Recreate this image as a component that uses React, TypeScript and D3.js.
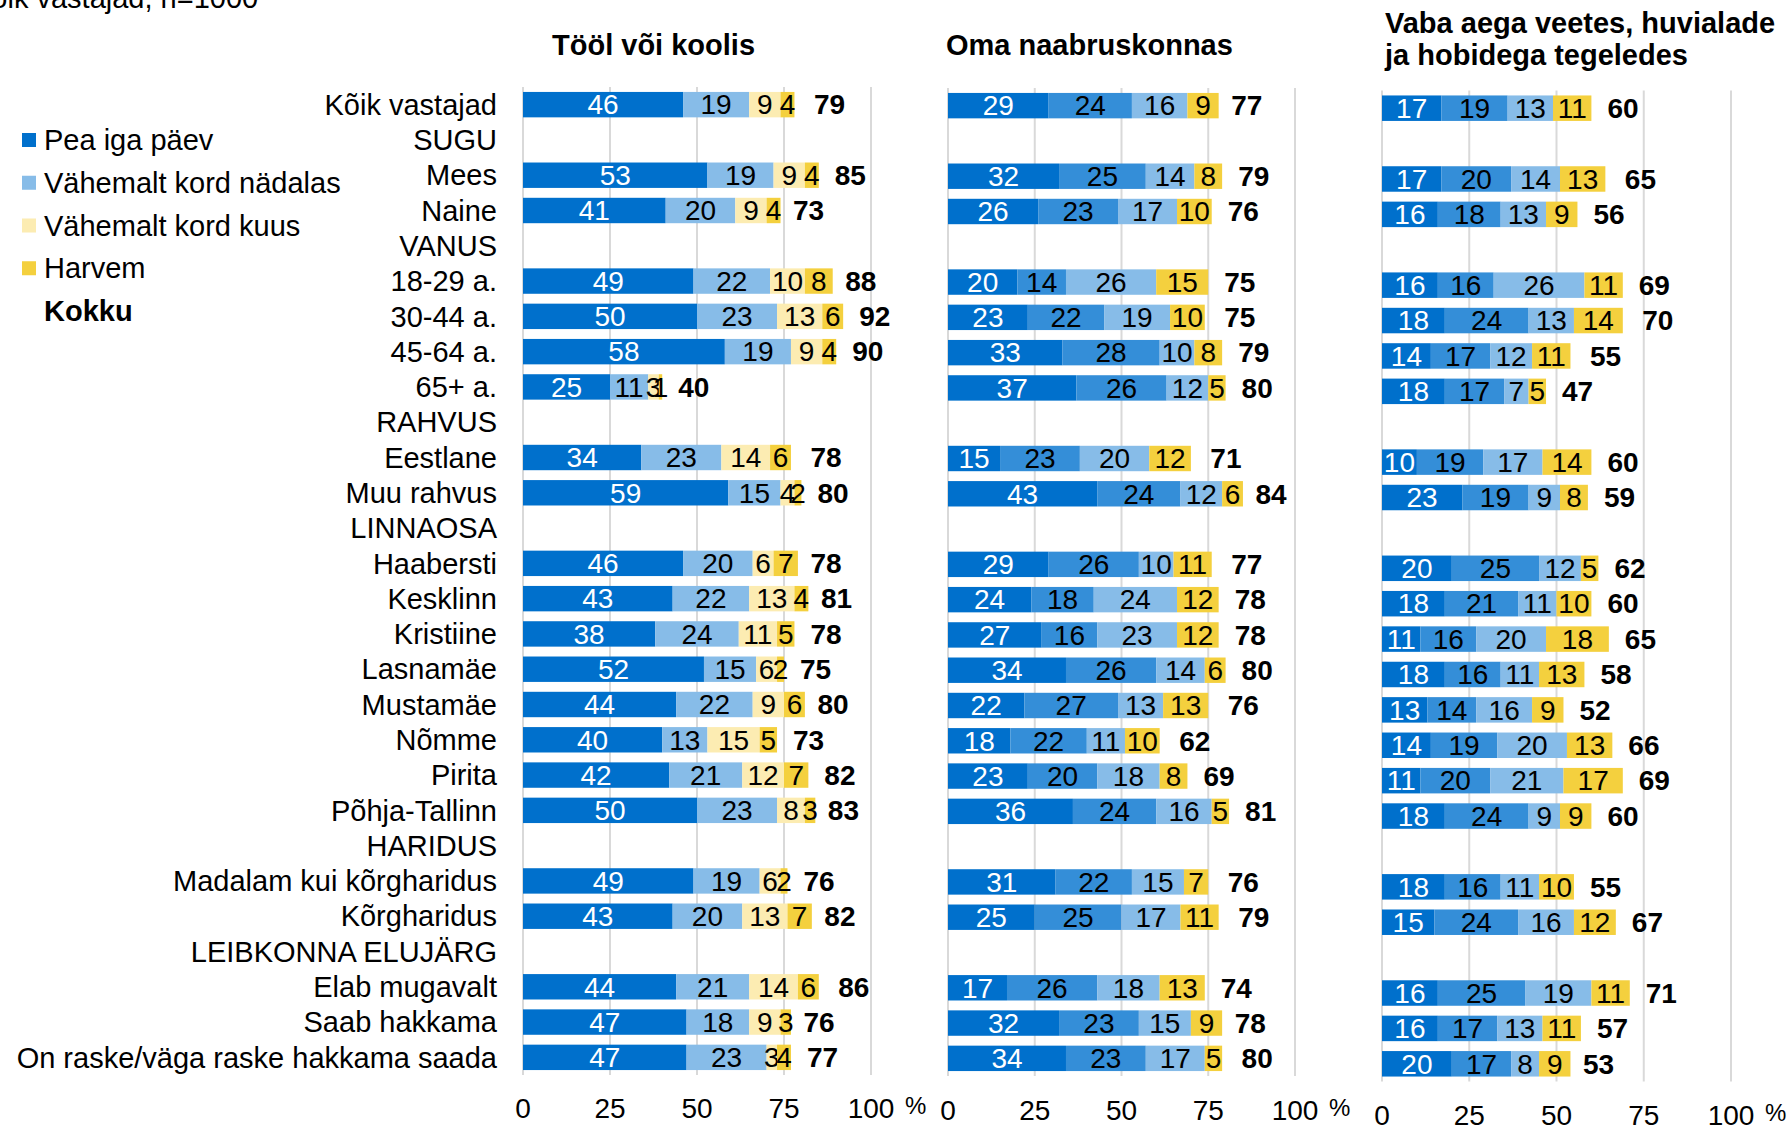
import { useEffect, useRef } from "react";
import * as d3 from "d3";

const rowLabels = [
  "Kõik vastajad", "SUGU", "Mees", "Naine", "VANUS", "18-29 a.", "30-44 a.", "45-64 a.", "65+ a.",
  "RAHVUS", "Eestlane", "Muu rahvus", "LINNAOSA", "Haabersti", "Kesklinn", "Kristiine", "Lasnamäe",
  "Mustamäe", "Nõmme", "Pirita", "Põhja-Tallinn", "HARIDUS", "Madalam kui kõrgharidus", "Kõrgharidus",
  "LEIBKONNA ELUJÄRG", "Elab mugavalt", "Saab hakkama", "On raske/väga raske hakkama saada",
];
const groupHeaders = ["SUGU", "VANUS", "RAHVUS", "LINNAOSA", "HARIDUS", "LEIBKONNA ELUJÄRG"];
const dataRows = rowLabels.filter((r) => !groupHeaders.includes(r));

const legendLabels = ["Pea iga päev", "Vähemalt kord nädalas", "Vähemalt kord kuus", "Harvem"];

// Tööl või koolis
const workDaily = [46, 53, 41, 49, 50, 58, 25, 34, 59, 46, 43, 38, 52, 44, 40, 42, 50, 49, 43, 44, 47, 47];
const workWeekly = [19, 19, 20, 22, 23, 19, 11, 23, 15, 20, 22, 24, 15, 22, 13, 21, 23, 19, 20, 21, 18, 23];
const workMonthly = [9, 9, 9, 10, 13, 9, 3, 14, 4, 6, 13, 11, 6, 9, 15, 12, 8, 6, 13, 14, 9, 3];
const workRarely = [4, 4, 4, 8, 6, 4, 1, 6, 2, 7, 4, 5, 2, 6, 5, 7, 3, 2, 7, 6, 3, 4];
const workTotal = [79, 85, 73, 88, 92, 90, 40, 78, 80, 78, 81, 78, 75, 80, 73, 82, 83, 76, 82, 86, 76, 77];

// Oma naabruskonnas
const hoodA = [29, 32, 26, 20, 23, 33, 37, 15, 43, 29, 24, 27, 34, 22, 18, 23, 36, 31, 25, 17, 32, 34];
const hoodB = [24, 25, 23, 14, 22, 28, 26, 23, 24, 26, 18, 16, 26, 27, 22, 20, 24, 22, 25, 26, 23, 23];
const hoodC = [16, 14, 17, 26, 19, 10, 12, 20, 12, 10, 24, 23, 14, 13, 11, 18, 16, 15, 17, 18, 15, 17];
const hoodD = [9, 8, 10, 15, 10, 8, 5, 12, 6, 11, 12, 12, 6, 13, 10, 8, 5, 7, 11, 13, 9, 5];
const hoodTotal = [77, 79, 76, 75, 75, 79, 80, 71, 84, 77, 78, 78, 80, 76, 62, 69, 81, 76, 79, 74, 78, 80];

// Vaba aega veetes, huvialade ja hobidega tegeledes
const leisureA = [17, 17, 16, 16, 18, 14, 18, 10, 23, 20, 18, 11, 18, 13, 14, 11, 18, 18, 15, 16, 16, 20];
const leisureB = [19, 20, 18, 16, 24, 17, 17, 19, 19, 25, 21, 16, 16, 14, 19, 20, 24, 16, 24, 25, 17, 17];
const leisureC = [13, 14, 13, 26, 13, 12, 7, 17, 9, 12, 11, 20, 11, 16, 20, 21, 9, 11, 16, 19, 13, 8];
const leisureD = [11, 13, 9, 11, 14, 11, 5, 14, 8, 5, 10, 18, 13, 9, 13, 17, 9, 10, 12, 11, 11, 9];
const leisureTotal = [60, 65, 56, 69, 70, 55, 47, 60, 59, 62, 60, 65, 58, 52, 66, 69, 60, 55, 67, 71, 57, 53];

const tickValues = [0, 25, 50, 75, 100];

const DARK = "#0070cc";
const MID = "#348ed8";
const LIGHT = "#87bce8";
const PALE = "#fcecb2";
const YELLOW = "#f4d03e";

const FONT = "'Liberation Sans', Arial, sans-serif";

export default function App() {
  const ref = useRef<SVGSVGElement>(null);
  const width = 1789;
  const height = 1130;

  useEffect(() => {
    if (!ref.current) return;
    document.body.style.margin = "0";
    const svg = d3.select(ref.current);
    svg.selectAll("*").remove();
    svg.append("rect").attr("width", width).attr("height", height).attr("fill", "#fff");

    const panels = [
      {
        title: ["Tööl või koolis"], titleX: 552, titleY: 55,
        x0: 523, x1: 871, yTop: 87, yBot: 1075, tickY: 1118,
        series: [workDaily, workWeekly, workMonthly, workRarely], totals: workTotal,
        colors: [DARK, LIGHT, PALE, YELLOW],
      },
      {
        title: ["Oma naabruskonnas"], titleX: 946, titleY: 55,
        x0: 948, x1: 1295, yTop: 88, yBot: 1076, tickY: 1120,
        series: [hoodA, hoodB, hoodC, hoodD], totals: hoodTotal,
        colors: [DARK, MID, LIGHT, YELLOW],
      },
      {
        title: ["Vaba aega veetes, huvialade", "ja hobidega tegeledes"], titleX: 1385, titleY: 33,
        x0: 1382, x1: 1731, yTop: 90.5, yBot: 1081.5, tickY: 1125,
        series: [leisureA, leisureB, leisureC, leisureD], totals: leisureTotal,
        colors: [DARK, MID, LIGHT, YELLOW],
      },
    ];

    // header text, cut off at the top edge as in the source
    svg.append("text")
      .attr("x", -28).attr("y", 8)
      .attr("font-family", FONT).attr("font-size", 29).attr("fill", "#000")
      .text("Kõik vastajad, n=1000");

    panels.forEach((p, pi) => {
      const x = d3.scaleLinear().domain([0, 100]).range([p.x0, p.x1]);
      const y = d3.scaleBand<string>().domain(rowLabels).range([p.yTop, p.yBot])
        .paddingInner(0.28).paddingOuter(0.14);
      const g = svg.append("g");

      // title
      g.append("text")
        .attr("font-family", FONT).attr("font-size", 29).attr("font-weight", "bold").attr("fill", "#000")
        .selectAll("tspan").data(p.title).enter().append("tspan")
        .attr("x", p.titleX).attr("y", (d, i) => p.titleY + i * 32)
        .text((d) => d);

      // grid
      g.selectAll(".grid").data(tickValues).enter().append("line")
        .attr("x1", (d) => x(d)).attr("x2", (d) => x(d))
        .attr("y1", p.yTop).attr("y2", p.yBot)
        .attr("stroke", "#d9d9d9").attr("stroke-width", 2);

      // tick labels
      g.selectAll(".tick").data(tickValues).enter().append("text")
        .attr("x", (d) => x(d)).attr("y", p.tickY)
        .attr("text-anchor", "middle")
        .attr("font-family", FONT).attr("font-size", 28).attr("fill", "#000")
        .text((d) => d);
      g.append("text")
        .attr("x", x(100) + 34).attr("y", p.tickY - 4)
        .attr("font-family", FONT).attr("font-size", 24).attr("fill", "#000")
        .text("%");

      // stacked bars
      dataRows.forEach((row, ri) => {
        let acc = 0;
        const yb = y(row)!;
        const bh = y.bandwidth();
        p.series.forEach((s, si) => {
          const v = s[ri];
          g.append("rect")
            .attr("x", x(acc)).attr("y", yb)
            .attr("width", x(acc + v) - x(acc)).attr("height", bh)
            .attr("fill", p.colors[si]);
          g.append("text")
            .attr("x", x(acc + v / 2)).attr("y", yb + bh / 2).attr("dy", "0.35em")
            .attr("text-anchor", "middle")
            .attr("font-family", FONT).attr("font-size", 28)
            .attr("fill", si === 0 ? "#fff" : "#000")
            .text(v);
          acc += v;
        });
        g.append("text")
          .attr("x", x(p.totals[ri]) + 16).attr("y", yb + bh / 2).attr("dy", "0.35em")
          .attr("font-family", FONT).attr("font-size", 28).attr("font-weight", "bold").attr("fill", "#000")
          .text(p.totals[ri]);
      });

      // row labels next to the first panel
      if (pi === 0) {
        svg.selectAll(".rowlabel").data(rowLabels).enter().append("text")
          .attr("x", 497).attr("y", (d) => y(d)! + y.bandwidth() / 2)
          .attr("dy", "0.35em")
          .attr("text-anchor", "end")
          .attr("font-family", FONT).attr("font-size", 29).attr("fill", "#000")
          .text((d) => d);
      }
    });

    // legend
    const legendY = d3.scaleLinear().domain([0, 4]).range([140, 311]);
    const legendColors = [DARK, LIGHT, PALE, YELLOW];
    legendLabels.forEach((label, i) => {
      svg.append("rect")
        .attr("x", 22).attr("y", legendY(i) - 7).attr("width", 14).attr("height", 14)
        .attr("fill", legendColors[i]);
      svg.append("text")
        .attr("x", 44).attr("y", legendY(i))
        .attr("dy", "0.35em")
        .attr("font-family", FONT).attr("font-size", 29).attr("fill", "#000")
        .text(label);
    });
    svg.append("text")
      .attr("x", 44).attr("y", legendY(4))
      .attr("dy", "0.35em")
      .attr("font-family", FONT).attr("font-size", 29).attr("font-weight", "bold").attr("fill", "#000")
      .text("Kokku");
  }, []);

  return (
    <svg
      ref={ref}
      width={width}
      height={height}
      viewBox={`0 0 ${width} ${height}`}
      style={{ display: "block", position: "absolute", left: 0, top: 0 }}
    />
  );
}
